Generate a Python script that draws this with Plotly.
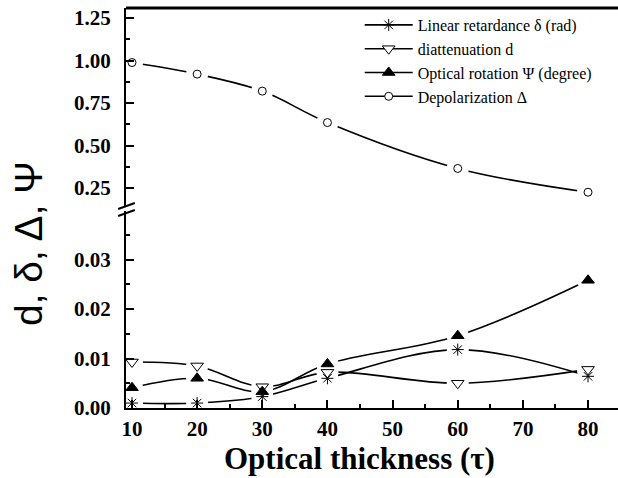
import plotly.graph_objects as go

# ---- data ----
tau = [10, 20, 30, 40, 60, 80]
retardance = [0.0010, 0.0010, 0.0023, 0.0060, 0.0118, 0.0064]
diattenuation = [0.0093, 0.0085, 0.0043, 0.0072, 0.0050, 0.0078]
rotation = [0.0041, 0.0060, 0.0033, 0.0089, 0.0146, 0.0258]
depolarization = [0.988, 0.92, 0.82, 0.635, 0.365, 0.225]

names = ["Linear retardance \u03b4 (rad)", "diattenuation d",
         "Optical rotation \u03a8 (degree)", "Depolarization \u0394"]

series = [
    (names[0], retardance, "y", dict(symbol="asterisk-open", size=10, color="black", line=dict(width=1, color="black"))),
    (names[1], diattenuation, "y", dict(symbol="triangle-down", size=11, color="white", line=dict(width=1, color="black"))),
    (names[2], rotation, "y", dict(symbol="triangle-up", size=11, color="black", line=dict(width=1, color="black"))),
    (names[3], depolarization, "y2", dict(symbol="circle", size=8, color="white", line=dict(width=1, color="black"))),
]
line_style = dict(color="black", width=1.6, shape="spline", smoothing=1)

fig = go.Figure()
# legend entries
for name, vals, ya, mk in series:
    fig.add_trace(go.Scatter(x=[None], y=[None], yaxis=ya, name=name, mode="lines+markers",
                             line=line_style, marker=mk))
# curves
for name, vals, ya, mk in series:
    fig.add_trace(go.Scatter(x=tau, y=vals, yaxis=ya, mode="lines", showlegend=False,
                             hoverinfo="skip", line=line_style))
# white halos around the points -> gaps in the curves near the markers
for name, vals, ya, mk in series:
    fig.add_trace(go.Scatter(x=tau, y=vals, yaxis=ya, mode="markers", showlegend=False,
                             hoverinfo="skip",
                             marker=dict(symbol="circle", size=22, color="white",
                                         line=dict(width=0, color="white"))))
# visible markers on top
for name, vals, ya, mk in series:
    fig.add_trace(go.Scatter(x=tau, y=vals, yaxis=ya, mode="markers", showlegend=False,
                             name=name, marker=mk))

tickfont = dict(family="Liberation Serif", size=21, color="black", weight="bold")
axis_common = dict(showline=True, linecolor="black", linewidth=2, ticks="inside", ticklen=8,
                   tickwidth=2, tickcolor="black", showgrid=False, zeroline=False,
                   tickfont=tickfont, layer="above traces")

fig.update_layout(
    width=618, height=478,
    margin=dict(l=126, r=0, t=8, b=70),
    paper_bgcolor="white", plot_bgcolor="white",
    font=dict(family="Liberation Serif", color="black"),
    xaxis=dict(range=[9.08, 84.6], dtick=10, tick0=0, anchor="y", ticklabelstandoff=1,
               minor=dict(ticks="inside", ticklen=4, tickwidth=2, tickcolor="black", dtick=5),
               **axis_common),
    yaxis=dict(domain=[0, 0.4925], range=[0, 0.0398], dtick=0.01, tick0=0, tickformat=".2f",
               anchor="x", ticklabelstandoff=9,
               minor=dict(ticks="inside", ticklen=4, tickwidth=2, tickcolor="black", dtick=0.005),
               **axis_common),
    yaxis2=dict(domain=[0.505, 1], range=[0.144, 1.309], dtick=0.25, tick0=0, tickformat=".2f",
                anchor="x", ticklabelstandoff=9,
                minor=dict(ticks="inside", ticklen=4, tickwidth=2, tickcolor="black", dtick=0.125),
                **axis_common),
    legend=dict(x=0.475, y=1.0, xanchor="left", yanchor="top", bgcolor="rgba(0,0,0,0)",
                font=dict(family="Liberation Serif", size=16, color="black"),
                tracegroupgap=0, itemwidth=48),
    showlegend=True,
)

# top frame line of the upper panel
fig.add_shape(type="line", xref="paper", yref="paper", x0=0, x1=1, y0=1, y1=1,
              line=dict(color="black", width=3))

# axis break marks
for y0, y1 in [(0.4975, 0.5125), (0.480, 0.495)]:
    fig.add_shape(type="line", xref="paper", yref="paper", x0=-0.016, x1=0.018, y0=y0, y1=y1,
                  line=dict(color="black", width=2))

fig.add_annotation(text="d, \u03b4, \u0394, \u03a8", xref="paper", yref="paper", x=0, y=0.41,
                   xshift=-98, textangle=-90, showarrow=False, xanchor="center", yanchor="middle",
                   font=dict(family="Liberation Sans", size=39, color="black"))
fig.add_annotation(text="<b>Optical thickness (\u03c4)</b>", xref="paper", yref="paper",
                   x=0.4756, y=-0.125, showarrow=False, xanchor="center", yanchor="middle",
                   font=dict(family="Liberation Serif", size=31, color="black"))

fig.write_html("out.html", config={"displayModeBar": False},
               post_script="document.body.style.margin='0';")
